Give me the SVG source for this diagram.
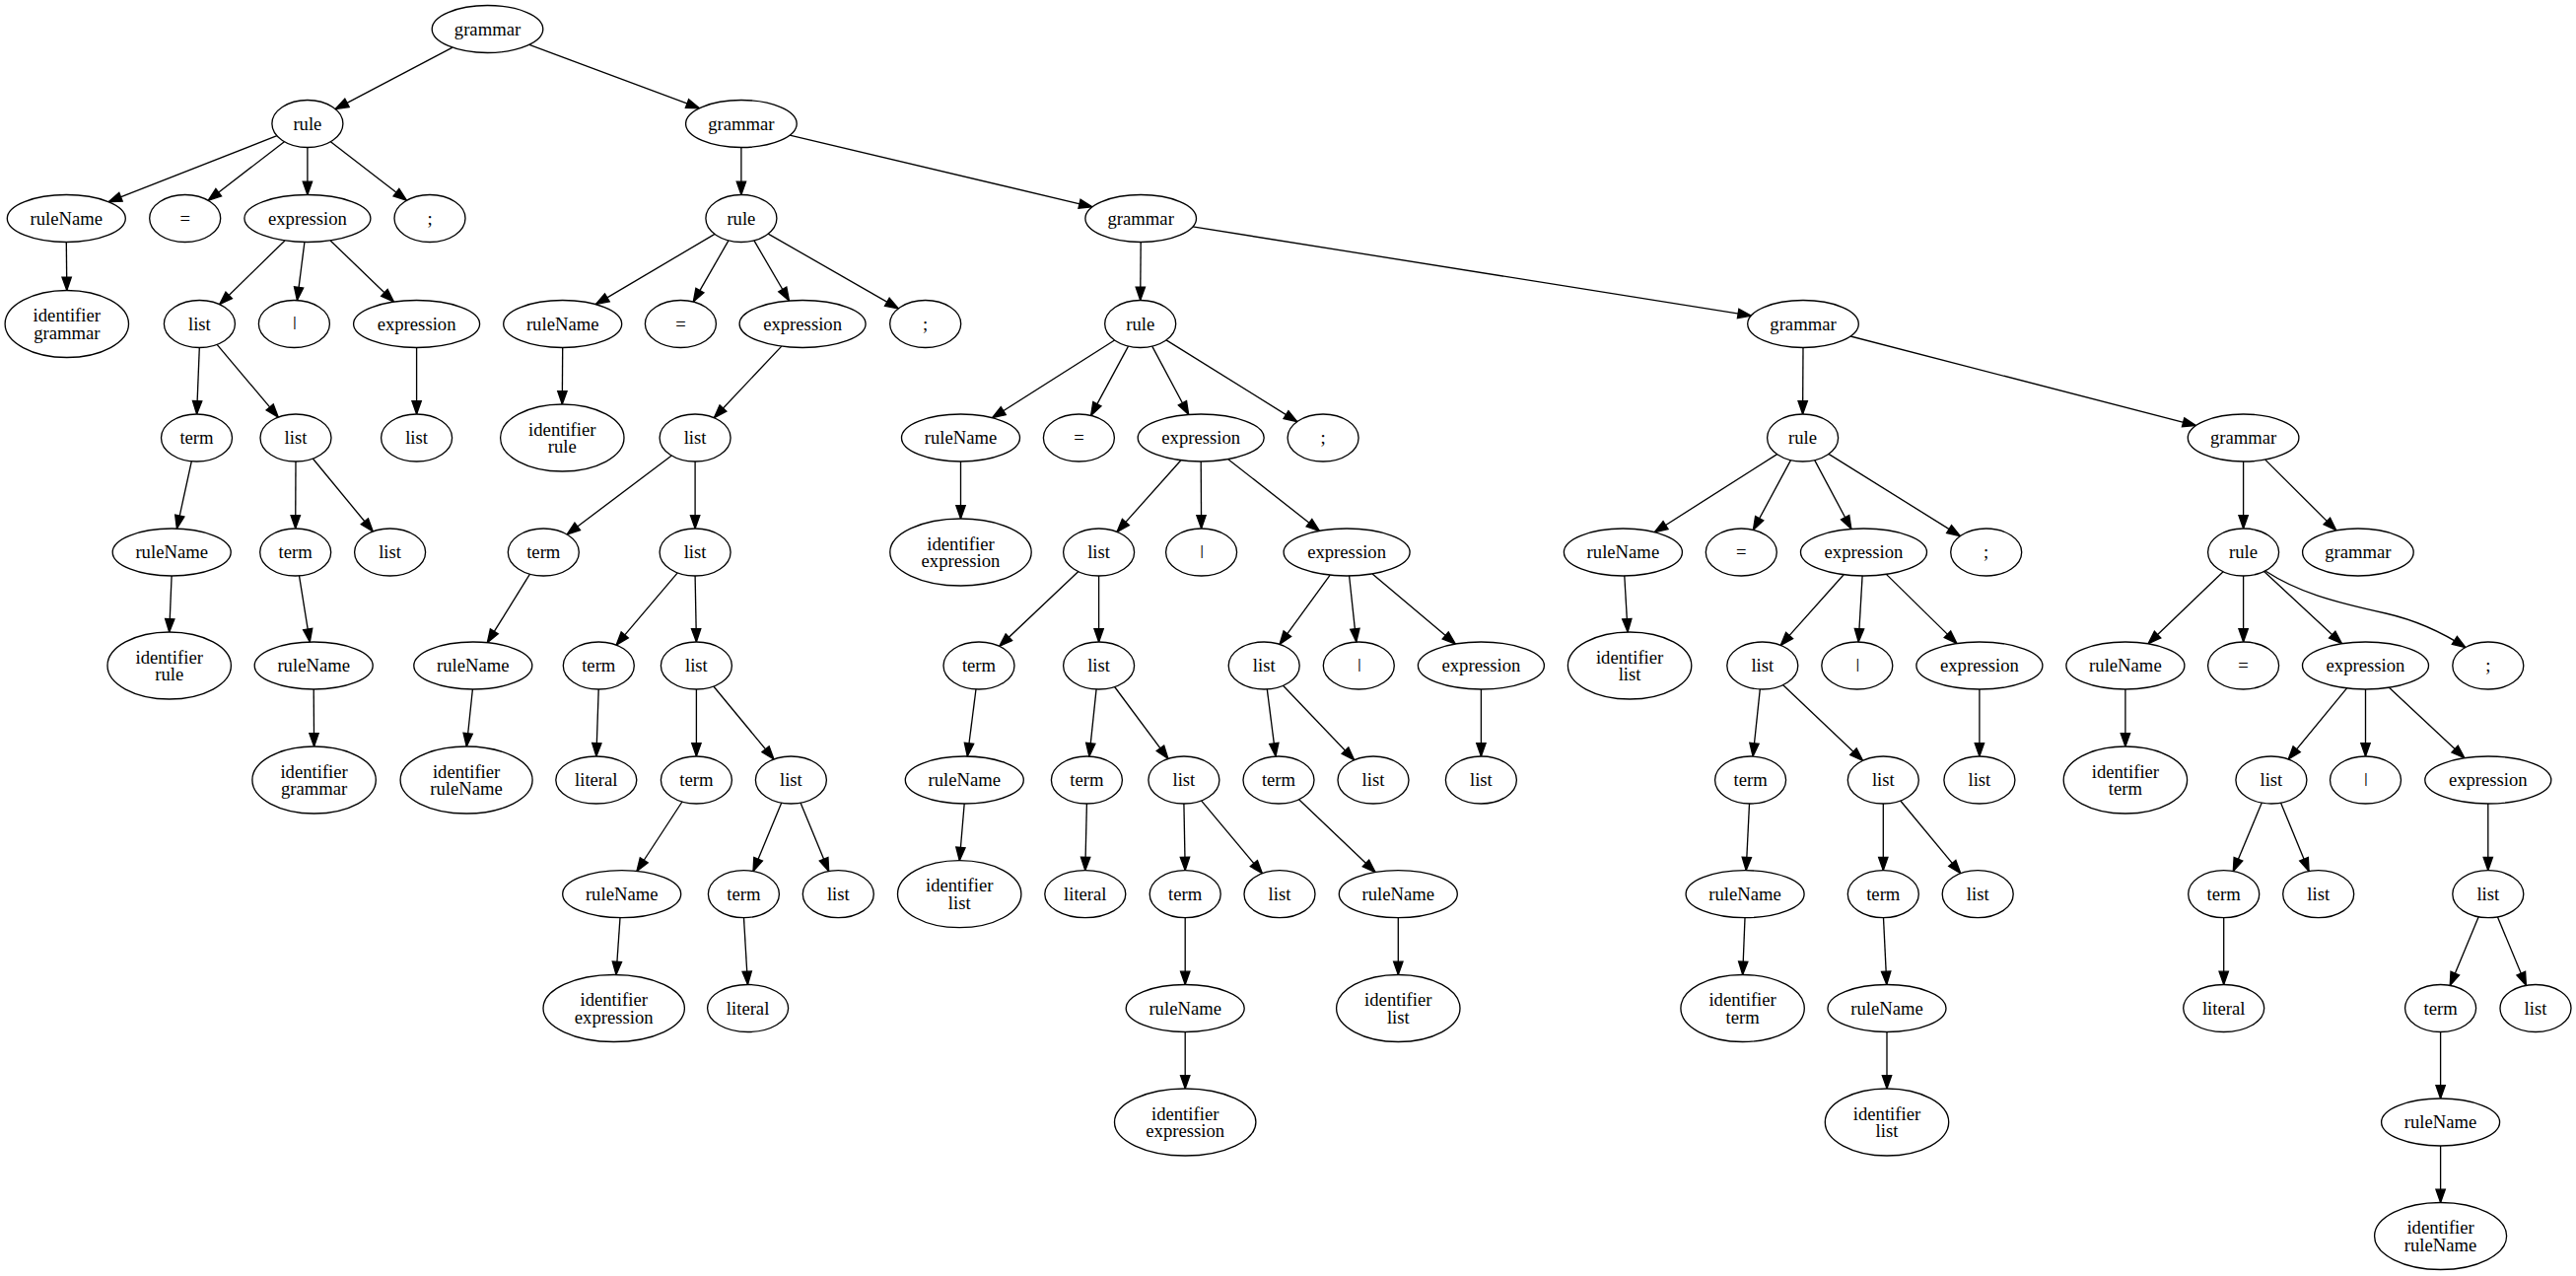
<svg xmlns="http://www.w3.org/2000/svg" width="2613" height="1294" viewBox="0 0 2613 1294">
<defs>
<marker id="ah" markerUnits="userSpaceOnUse" markerWidth="16" markerHeight="12" refX="13.33" refY="5" orient="auto" overflow="visible">
<path d="M0,0.33 L13.33,5 L0,9.67 Z" fill="#000" stroke="#000" stroke-width="1.33"/>
</marker>
<style>
.n ellipse{fill:#fff;stroke:#000;stroke-width:1.33}
.n text{font-family:"Liberation Serif","Times New Roman",serif;font-size:18.67px;text-anchor:middle;fill:#000}
.n text.bar{font-size:15px;font-weight:bold}
#edges line,#edges path{stroke:#000;stroke-width:1.33;fill:none;marker-end:url(#ah)}
</style>
</defs>
<rect width="2613" height="1294" fill="#fff"/>
<g id="edges">
<line x1="459.0" y1="48.1" x2="340.2" y2="110.6"/>
<line x1="536.9" y1="45.3" x2="709.5" y2="109.7"/>
<line x1="280.9" y1="137.7" x2="110.1" y2="204.7"/>
<line x1="288.4" y1="143.7" x2="211.2" y2="203.3"/>
<line x1="311.9" y1="149.5" x2="311.9" y2="197.5"/>
<line x1="335.4" y1="143.7" x2="412.5" y2="203.3"/>
<line x1="67.3" y1="245.5" x2="67.8" y2="294.5"/>
<line x1="289.0" y1="243.9" x2="222.7" y2="308.7"/>
<line x1="308.9" y1="245.5" x2="301.4" y2="304.6"/>
<line x1="335.1" y1="243.9" x2="399.5" y2="306.1"/>
<line x1="202.3" y1="352.5" x2="199.6" y2="420"/>
<line x1="220.1" y1="349.4" x2="282.3" y2="423.1"/>
<line x1="422.6" y1="352.5" x2="422.6" y2="420"/>
<line x1="194.3" y1="467.8" x2="179.4" y2="536.1"/>
<line x1="174.1" y1="584" x2="171.7" y2="641"/>
<line x1="300" y1="468" x2="299.7" y2="536"/>
<line x1="317.3" y1="465.0" x2="378.3" y2="539.0"/>
<line x1="303.5" y1="583.9" x2="314.3" y2="651.1"/>
<line x1="318.2" y1="699" x2="318.6" y2="757"/>
<line x1="751.9" y1="149.5" x2="751.9" y2="197.5"/>
<line x1="801.1" y1="137.2" x2="1108.0" y2="209.8"/>
<line x1="725.0" y1="237.4" x2="604.4" y2="308.6"/>
<line x1="739.0" y1="243.9" x2="703.3" y2="306.1"/>
<line x1="764.9" y1="243.9" x2="800.5" y2="305.0"/>
<line x1="779.2" y1="237.1" x2="911.4" y2="312.9"/>
<line x1="570.7" y1="352.5" x2="570.3" y2="410"/>
<line x1="792.8" y1="351.1" x2="724.3" y2="423.7"/>
<line x1="681.3" y1="462.0" x2="575.1" y2="542.0"/>
<line x1="705.1" y1="468" x2="705.1" y2="536"/>
<line x1="537.5" y1="582.2" x2="494.3" y2="651.7"/>
<line x1="479.4" y1="699" x2="473.3" y2="757"/>
<line x1="687.3" y1="580.9" x2="625.1" y2="654.1"/>
<line x1="705.1" y1="584" x2="706.4" y2="651"/>
<line x1="607.2" y1="699" x2="604.9" y2="767"/>
<line x1="706.4" y1="699" x2="706.4" y2="767"/>
<line x1="723.8" y1="696.0" x2="785.0" y2="770.0"/>
<line x1="692.0" y1="813.0" x2="645.9" y2="883.5"/>
<line x1="629.0" y1="930.7" x2="625.0" y2="988.5"/>
<line x1="792.8" y1="814.1" x2="764.0" y2="883.6"/>
<line x1="812.0" y1="814.1" x2="840.7" y2="883.6"/>
<line x1="754.5" y1="930.7" x2="758.5" y2="998.5"/>
<line x1="1157.2" y1="245.5" x2="1156.7" y2="304.5"/>
<line x1="1209.9" y1="229.9" x2="1776.3" y2="320.1"/>
<line x1="1130.6" y1="345.0" x2="1006.5" y2="423.7"/>
<line x1="1144.5" y1="351.1" x2="1106.6" y2="421.4"/>
<line x1="1168.7" y1="351.1" x2="1205.7" y2="420.5"/>
<line x1="1183.0" y1="344.9" x2="1315.8" y2="427.6"/>
<line x1="974.5" y1="468" x2="974.5" y2="526"/>
<line x1="1197.9" y1="466.8" x2="1133.0" y2="539.4"/>
<line x1="1218.2" y1="468" x2="1218.6" y2="536"/>
<line x1="1245.8" y1="465.7" x2="1338.5" y2="538.4"/>
<line x1="1093.9" y1="579.6" x2="1013.7" y2="655.4"/>
<line x1="1114.6" y1="584" x2="1114.6" y2="651"/>
<line x1="990.0" y1="698.9" x2="981.3" y2="767.0"/>
<line x1="978.2" y1="815" x2="973.3" y2="872.7"/>
<line x1="1112.1" y1="698.9" x2="1104.9" y2="767.1"/>
<line x1="1130.6" y1="696.5" x2="1184.9" y2="769.5"/>
<line x1="1102.4" y1="815" x2="1100.8" y2="882.7"/>
<line x1="1200.9" y1="815" x2="1202.2" y2="882.7"/>
<line x1="1218.5" y1="811.9" x2="1280.4" y2="885.8"/>
<line x1="1202.2" y1="930.7" x2="1202.2" y2="998.5"/>
<line x1="1202.2" y1="1046.5" x2="1202.2" y2="1104"/>
<line x1="1349.2" y1="583.1" x2="1298.0" y2="653.4"/>
<line x1="1368.6" y1="584.0" x2="1375.8" y2="651.1"/>
<line x1="1392.1" y1="581.9" x2="1476.4" y2="653.1"/>
<line x1="1285.3" y1="698.9" x2="1294.0" y2="767.1"/>
<line x1="1301.5" y1="695.2" x2="1373.7" y2="770.8"/>
<line x1="1317.6" y1="810.7" x2="1395.1" y2="884.6"/>
<line x1="1418.3" y1="930.7" x2="1418.3" y2="988.5"/>
<line x1="1502.4" y1="699" x2="1502.4" y2="767"/>
<line x1="1829" y1="352.5" x2="1828.6" y2="420"/>
<line x1="1877.1" y1="341.0" x2="2227.5" y2="431.6"/>
<line x1="1802.6" y1="460.6" x2="1678.3" y2="539.7"/>
<line x1="1816.5" y1="466.6" x2="1778.4" y2="537.4"/>
<line x1="1840.7" y1="466.6" x2="1877.9" y2="536.5"/>
<line x1="1854.9" y1="460.4" x2="1988.4" y2="543.6"/>
<line x1="1647.8" y1="584.0" x2="1651.1" y2="641.0"/>
<line x1="1870.2" y1="582.8" x2="1806.2" y2="654.4"/>
<line x1="1889.1" y1="584" x2="1885.2" y2="651"/>
<line x1="1913.4" y1="582.4" x2="1985.0" y2="652.6"/>
<line x1="1785.3" y1="698.9" x2="1778.1" y2="767.1"/>
<line x1="1808.5" y1="694.6" x2="1889.6" y2="771.4"/>
<line x1="1774.5" y1="815" x2="1771.2" y2="882.7"/>
<line x1="1770.0" y1="930.7" x2="1767.7" y2="988.5"/>
<line x1="1910.3" y1="815" x2="1910.3" y2="882.7"/>
<line x1="1927.7" y1="812.0" x2="1988.8" y2="885.7"/>
<line x1="1910.5" y1="930.7" x2="1913.8" y2="998.5"/>
<line x1="1914" y1="1046.5" x2="1914" y2="1104"/>
<line x1="2007.9" y1="699" x2="2007.9" y2="767"/>
<line x1="2275.6" y1="468" x2="2275.6" y2="536"/>
<line x1="2297.7" y1="466.1" x2="2369.8" y2="537.9"/>
<line x1="2255.1" y1="579.7" x2="2179.0" y2="652.8"/>
<line x1="2275.6" y1="584" x2="2275.6" y2="651"/>
<line x1="2296.6" y1="579.5" x2="2375.5" y2="652.7"/>
<path d="M2298.3,579.3 C2330,600 2365,610 2420,622 C2455,630 2480,643 2501,656.7"/>
<line x1="2155.9" y1="699" x2="2155.9" y2="757"/>
<line x1="2380.6" y1="697.9" x2="2321.2" y2="770.0"/>
<line x1="2399.5" y1="699" x2="2399.5" y2="767"/>
<line x1="2423.4" y1="697.3" x2="2499.9" y2="768.7"/>
<line x1="2294.3" y1="814.1" x2="2265.3" y2="883.6"/>
<line x1="2313.5" y1="814.1" x2="2342.1" y2="883.6"/>
<line x1="2255.7" y1="930.7" x2="2255.7" y2="998.5"/>
<line x1="2523.8" y1="815" x2="2523.8" y2="882.7"/>
<line x1="2514.2" y1="929.8" x2="2485.2" y2="999.4"/>
<line x1="2533.4" y1="929.8" x2="2562.4" y2="999.4"/>
<line x1="2475.6" y1="1046.5" x2="2475.6" y2="1114"/>
<line x1="2475.6" y1="1162" x2="2475.6" y2="1219.5"/>
</g>
<g id="n0" class="n"><ellipse cx="494.5" cy="29.5" rx="56.3" ry="24"/><text x="494.5" y="35.8">grammar</text></g>
<g id="n1" class="n"><ellipse cx="311.9" cy="125.5" rx="36" ry="24"/><text x="311.9" y="131.8">rule</text></g>
<g id="n2" class="n"><ellipse cx="67.3" cy="221.5" rx="60" ry="24"/><text x="67.3" y="227.8">ruleName</text></g>
<g id="n3" class="n"><ellipse cx="67.8" cy="328.5" rx="62.7" ry="34"/><text x="67.8" y="326"><tspan x="67.8">identifier</tspan><tspan x="67.8" dy="17.5">grammar</tspan></text></g>
<g id="n4" class="n"><ellipse cx="187.7" cy="221.5" rx="36" ry="24"/><text x="187.7" y="227.8">=</text></g>
<g id="n5" class="n"><ellipse cx="311.9" cy="221.5" rx="64" ry="24"/><text x="311.9" y="227.8">expression</text></g>
<g id="n6" class="n"><ellipse cx="202.4" cy="328.5" rx="36" ry="24"/><text x="202.4" y="334.8">list</text></g>
<g id="n7" class="n"><ellipse cx="199.5" cy="444" rx="36" ry="24"/><text x="199.5" y="450.3">term</text></g>
<g id="n8" class="n"><ellipse cx="174.2" cy="560" rx="60" ry="24"/><text x="174.2" y="566.3">ruleName</text></g>
<g id="n9" class="n"><ellipse cx="171.7" cy="675" rx="62.7" ry="34"/><text x="171.7" y="672.5"><tspan x="171.7">identifier</tspan><tspan x="171.7" dy="17.5">rule</tspan></text></g>
<g id="n10" class="n"><ellipse cx="300" cy="444" rx="36" ry="24"/><text x="300" y="450.3">list</text></g>
<g id="n11" class="n"><ellipse cx="299.7" cy="560" rx="36" ry="24"/><text x="299.7" y="566.3">term</text></g>
<g id="n12" class="n"><ellipse cx="318.2" cy="675" rx="60" ry="24"/><text x="318.2" y="681.3">ruleName</text></g>
<g id="n13" class="n"><ellipse cx="318.6" cy="791" rx="62.7" ry="34"/><text x="318.6" y="788.5"><tspan x="318.6">identifier</tspan><tspan x="318.6" dy="17.5">grammar</tspan></text></g>
<g id="n14" class="n"><ellipse cx="395.6" cy="560" rx="36" ry="24"/><text x="395.6" y="566.3">list</text></g>
<g id="n15" class="n"><ellipse cx="298.4" cy="328.5" rx="36" ry="24"/><text class="bar" x="298.9" y="331.2">|</text></g>
<g id="n16" class="n"><ellipse cx="422.6" cy="328.5" rx="64" ry="24"/><text x="422.6" y="334.8">expression</text></g>
<g id="n17" class="n"><ellipse cx="422.6" cy="444" rx="36" ry="24"/><text x="422.6" y="450.3">list</text></g>
<g id="n18" class="n"><ellipse cx="436" cy="221.5" rx="36" ry="24"/><text x="436" y="227.8">;</text></g>
<g id="n19" class="n"><ellipse cx="751.9" cy="125.5" rx="56.3" ry="24"/><text x="751.9" y="131.8">grammar</text></g>
<g id="n20" class="n"><ellipse cx="751.9" cy="221.5" rx="36" ry="24"/><text x="751.9" y="227.8">rule</text></g>
<g id="n21" class="n"><ellipse cx="570.7" cy="328.5" rx="60" ry="24"/><text x="570.7" y="334.8">ruleName</text></g>
<g id="n22" class="n"><ellipse cx="570.3" cy="444" rx="62.7" ry="34"/><text x="570.3" y="441.5"><tspan x="570.3">identifier</tspan><tspan x="570.3" dy="17.5">rule</tspan></text></g>
<g id="n23" class="n"><ellipse cx="690.4" cy="328.5" rx="36" ry="24"/><text x="690.4" y="334.8">=</text></g>
<g id="n24" class="n"><ellipse cx="814.1" cy="328.5" rx="64" ry="24"/><text x="814.1" y="334.8">expression</text></g>
<g id="n25" class="n"><ellipse cx="705.1" cy="444" rx="36" ry="24"/><text x="705.1" y="450.3">list</text></g>
<g id="n26" class="n"><ellipse cx="551.3" cy="560" rx="36" ry="24"/><text x="551.3" y="566.3">term</text></g>
<g id="n27" class="n"><ellipse cx="479.8" cy="675" rx="60" ry="24"/><text x="479.8" y="681.3">ruleName</text></g>
<g id="n28" class="n"><ellipse cx="473.1" cy="791" rx="67" ry="34"/><text x="473.1" y="788.5"><tspan x="473.1">identifier</tspan><tspan x="473.1" dy="17.5">ruleName</tspan></text></g>
<g id="n29" class="n"><ellipse cx="705.1" cy="560" rx="36" ry="24"/><text x="705.1" y="566.3">list</text></g>
<g id="n30" class="n"><ellipse cx="607.3" cy="675" rx="36" ry="24"/><text x="607.3" y="681.3">term</text></g>
<g id="n31" class="n"><ellipse cx="604.8" cy="791" rx="41" ry="24"/><text x="604.8" y="797.3">literal</text></g>
<g id="n32" class="n"><ellipse cx="706.4" cy="675" rx="36" ry="24"/><text x="706.4" y="681.3">list</text></g>
<g id="n33" class="n"><ellipse cx="706.4" cy="791" rx="36" ry="24"/><text x="706.4" y="797.3">term</text></g>
<g id="n34" class="n"><ellipse cx="630.7" cy="906.7" rx="60" ry="24"/><text x="630.7" y="913">ruleName</text></g>
<g id="n35" class="n"><ellipse cx="622.7" cy="1022.5" rx="71.7" ry="34"/><text x="622.7" y="1020"><tspan x="622.7">identifier</tspan><tspan x="622.7" dy="17.5">expression</tspan></text></g>
<g id="n36" class="n"><ellipse cx="802.4" cy="791" rx="36" ry="24"/><text x="802.4" y="797.3">list</text></g>
<g id="n37" class="n"><ellipse cx="754.4" cy="906.7" rx="36" ry="24"/><text x="754.4" y="913">term</text></g>
<g id="n38" class="n"><ellipse cx="758.6" cy="1022.5" rx="41" ry="24"/><text x="758.6" y="1028.8">literal</text></g>
<g id="n39" class="n"><ellipse cx="850.3" cy="906.7" rx="36" ry="24"/><text x="850.3" y="913">list</text></g>
<g id="n40" class="n"><ellipse cx="938.7" cy="328.5" rx="36" ry="24"/><text x="938.7" y="334.8">;</text></g>
<g id="n41" class="n"><ellipse cx="1157.2" cy="221.5" rx="56.3" ry="24"/><text x="1157.2" y="227.8">grammar</text></g>
<g id="n42" class="n"><ellipse cx="1156.7" cy="328.5" rx="36" ry="24"/><text x="1156.7" y="334.8">rule</text></g>
<g id="n43" class="n"><ellipse cx="974.5" cy="444" rx="60" ry="24"/><text x="974.5" y="450.3">ruleName</text></g>
<g id="n44" class="n"><ellipse cx="974.5" cy="560" rx="71.7" ry="34"/><text x="974.5" y="557.5"><tspan x="974.5">identifier</tspan><tspan x="974.5" dy="17.5">expression</tspan></text></g>
<g id="n45" class="n"><ellipse cx="1094.4" cy="444" rx="36" ry="24"/><text x="1094.4" y="450.3">=</text></g>
<g id="n46" class="n"><ellipse cx="1218.2" cy="444" rx="64" ry="24"/><text x="1218.2" y="450.3">expression</text></g>
<g id="n47" class="n"><ellipse cx="1114.6" cy="560" rx="36" ry="24"/><text x="1114.6" y="566.3">list</text></g>
<g id="n48" class="n"><ellipse cx="993" cy="675" rx="36" ry="24"/><text x="993" y="681.3">term</text></g>
<g id="n49" class="n"><ellipse cx="978.3" cy="791" rx="60" ry="24"/><text x="978.3" y="797.3">ruleName</text></g>
<g id="n50" class="n"><ellipse cx="973.2" cy="906.7" rx="62.7" ry="34"/><text x="973.2" y="904.2"><tspan x="973.2">identifier</tspan><tspan x="973.2" dy="17.5">list</tspan></text></g>
<g id="n51" class="n"><ellipse cx="1114.6" cy="675" rx="36" ry="24"/><text x="1114.6" y="681.3">list</text></g>
<g id="n52" class="n"><ellipse cx="1102.4" cy="791" rx="36" ry="24"/><text x="1102.4" y="797.3">term</text></g>
<g id="n53" class="n"><ellipse cx="1100.8" cy="906.7" rx="41" ry="24"/><text x="1100.8" y="913">literal</text></g>
<g id="n54" class="n"><ellipse cx="1200.9" cy="791" rx="36" ry="24"/><text x="1200.9" y="797.3">list</text></g>
<g id="n55" class="n"><ellipse cx="1202.2" cy="906.7" rx="36" ry="24"/><text x="1202.2" y="913">term</text></g>
<g id="n56" class="n"><ellipse cx="1202.2" cy="1022.5" rx="60" ry="24"/><text x="1202.2" y="1028.8">ruleName</text></g>
<g id="n57" class="n"><ellipse cx="1202.2" cy="1138" rx="71.7" ry="34"/><text x="1202.2" y="1135.5"><tspan x="1202.2">identifier</tspan><tspan x="1202.2" dy="17.5">expression</tspan></text></g>
<g id="n58" class="n"><ellipse cx="1298" cy="906.7" rx="36" ry="24"/><text x="1298" y="913">list</text></g>
<g id="n59" class="n"><ellipse cx="1218.6" cy="560" rx="36" ry="24"/><text class="bar" x="1219.1" y="562.7">|</text></g>
<g id="n60" class="n"><ellipse cx="1366.1" cy="560" rx="64" ry="24"/><text x="1366.1" y="566.3">expression</text></g>
<g id="n61" class="n"><ellipse cx="1282.2" cy="675" rx="36" ry="24"/><text x="1282.2" y="681.3">list</text></g>
<g id="n62" class="n"><ellipse cx="1297" cy="791" rx="36" ry="24"/><text x="1297" y="797.3">term</text></g>
<g id="n63" class="n"><ellipse cx="1418.3" cy="906.7" rx="60" ry="24"/><text x="1418.3" y="913">ruleName</text></g>
<g id="n64" class="n"><ellipse cx="1418.3" cy="1022.5" rx="62.7" ry="34"/><text x="1418.3" y="1020"><tspan x="1418.3">identifier</tspan><tspan x="1418.3" dy="17.5">list</tspan></text></g>
<g id="n65" class="n"><ellipse cx="1393" cy="791" rx="36" ry="24"/><text x="1393" y="797.3">list</text></g>
<g id="n66" class="n"><ellipse cx="1378.3" cy="675" rx="36" ry="24"/><text class="bar" x="1378.8" y="677.7">|</text></g>
<g id="n67" class="n"><ellipse cx="1502.4" cy="675" rx="64" ry="24"/><text x="1502.4" y="681.3">expression</text></g>
<g id="n68" class="n"><ellipse cx="1502.4" cy="791" rx="36" ry="24"/><text x="1502.4" y="797.3">list</text></g>
<g id="n69" class="n"><ellipse cx="1342.1" cy="444" rx="36" ry="24"/><text x="1342.1" y="450.3">;</text></g>
<g id="n70" class="n"><ellipse cx="1829" cy="328.5" rx="56.3" ry="24"/><text x="1829" y="334.8">grammar</text></g>
<g id="n71" class="n"><ellipse cx="1828.6" cy="444" rx="36" ry="24"/><text x="1828.6" y="450.3">rule</text></g>
<g id="n72" class="n"><ellipse cx="1646.4" cy="560" rx="60" ry="24"/><text x="1646.4" y="566.3">ruleName</text></g>
<g id="n73" class="n"><ellipse cx="1653.1" cy="675" rx="62.7" ry="34"/><text x="1653.1" y="672.5"><tspan x="1653.1">identifier</tspan><tspan x="1653.1" dy="17.5">list</tspan></text></g>
<g id="n74" class="n"><ellipse cx="1766.3" cy="560" rx="36" ry="24"/><text x="1766.3" y="566.3">=</text></g>
<g id="n75" class="n"><ellipse cx="1890.5" cy="560" rx="64" ry="24"/><text x="1890.5" y="566.3">expression</text></g>
<g id="n76" class="n"><ellipse cx="1787.8" cy="675" rx="36" ry="24"/><text x="1787.8" y="681.3">list</text></g>
<g id="n77" class="n"><ellipse cx="1775.6" cy="791" rx="36" ry="24"/><text x="1775.6" y="797.3">term</text></g>
<g id="n78" class="n"><ellipse cx="1770.1" cy="906.7" rx="60" ry="24"/><text x="1770.1" y="913">ruleName</text></g>
<g id="n79" class="n"><ellipse cx="1767.6" cy="1022.5" rx="62.7" ry="34"/><text x="1767.6" y="1020"><tspan x="1767.6">identifier</tspan><tspan x="1767.6" dy="17.5">term</tspan></text></g>
<g id="n80" class="n"><ellipse cx="1910.3" cy="791" rx="36" ry="24"/><text x="1910.3" y="797.3">list</text></g>
<g id="n81" class="n"><ellipse cx="1910.3" cy="906.7" rx="36" ry="24"/><text x="1910.3" y="913">term</text></g>
<g id="n82" class="n"><ellipse cx="1914" cy="1022.5" rx="60" ry="24"/><text x="1914" y="1028.8">ruleName</text></g>
<g id="n83" class="n"><ellipse cx="1914" cy="1138" rx="62.7" ry="34"/><text x="1914" y="1135.5"><tspan x="1914">identifier</tspan><tspan x="1914" dy="17.5">list</tspan></text></g>
<g id="n84" class="n"><ellipse cx="2006.2" cy="906.7" rx="36" ry="24"/><text x="2006.2" y="913">list</text></g>
<g id="n85" class="n"><ellipse cx="1883.8" cy="675" rx="36" ry="24"/><text class="bar" x="1884.3" y="677.7">|</text></g>
<g id="n86" class="n"><ellipse cx="2007.9" cy="675" rx="64" ry="24"/><text x="2007.9" y="681.3">expression</text></g>
<g id="n87" class="n"><ellipse cx="2007.9" cy="791" rx="36" ry="24"/><text x="2007.9" y="797.3">list</text></g>
<g id="n88" class="n"><ellipse cx="2014.7" cy="560" rx="36" ry="24"/><text x="2014.7" y="566.3">;</text></g>
<g id="n89" class="n"><ellipse cx="2275.6" cy="444" rx="56.3" ry="24"/><text x="2275.6" y="450.3">grammar</text></g>
<g id="n90" class="n"><ellipse cx="2275.6" cy="560" rx="36" ry="24"/><text x="2275.6" y="566.3">rule</text></g>
<g id="n91" class="n"><ellipse cx="2155.9" cy="675" rx="60" ry="24"/><text x="2155.9" y="681.3">ruleName</text></g>
<g id="n92" class="n"><ellipse cx="2155.9" cy="791" rx="62.7" ry="34"/><text x="2155.9" y="788.5"><tspan x="2155.9">identifier</tspan><tspan x="2155.9" dy="17.5">term</tspan></text></g>
<g id="n93" class="n"><ellipse cx="2275.6" cy="675" rx="36" ry="24"/><text x="2275.6" y="681.3">=</text></g>
<g id="n94" class="n"><ellipse cx="2399.5" cy="675" rx="64" ry="24"/><text x="2399.5" y="681.3">expression</text></g>
<g id="n95" class="n"><ellipse cx="2303.9" cy="791" rx="36" ry="24"/><text x="2303.9" y="797.3">list</text></g>
<g id="n96" class="n"><ellipse cx="2255.7" cy="906.7" rx="36" ry="24"/><text x="2255.7" y="913">term</text></g>
<g id="n97" class="n"><ellipse cx="2255.7" cy="1022.5" rx="41" ry="24"/><text x="2255.7" y="1028.8">literal</text></g>
<g id="n98" class="n"><ellipse cx="2351.7" cy="906.7" rx="36" ry="24"/><text x="2351.7" y="913">list</text></g>
<g id="n99" class="n"><ellipse cx="2399.5" cy="791" rx="36" ry="24"/><text class="bar" x="2400" y="793.7">|</text></g>
<g id="n100" class="n"><ellipse cx="2523.8" cy="791" rx="64" ry="24"/><text x="2523.8" y="797.3">expression</text></g>
<g id="n101" class="n"><ellipse cx="2523.8" cy="906.7" rx="36" ry="24"/><text x="2523.8" y="913">list</text></g>
<g id="n102" class="n"><ellipse cx="2475.6" cy="1022.5" rx="36" ry="24"/><text x="2475.6" y="1028.8">term</text></g>
<g id="n103" class="n"><ellipse cx="2475.6" cy="1138" rx="60" ry="24"/><text x="2475.6" y="1144.3">ruleName</text></g>
<g id="n104" class="n"><ellipse cx="2475.6" cy="1253.5" rx="67" ry="34"/><text x="2475.6" y="1251"><tspan x="2475.6">identifier</tspan><tspan x="2475.6" dy="17.5">ruleName</tspan></text></g>
<g id="n105" class="n"><ellipse cx="2572" cy="1022.5" rx="36" ry="24"/><text x="2572" y="1028.8">list</text></g>
<g id="n106" class="n"><ellipse cx="2523.8" cy="675" rx="36" ry="24"/><text x="2523.8" y="681.3">;</text></g>
<g id="n107" class="n"><ellipse cx="2391.9" cy="560" rx="56.3" ry="24"/><text x="2391.9" y="566.3">grammar</text></g>
</svg>
